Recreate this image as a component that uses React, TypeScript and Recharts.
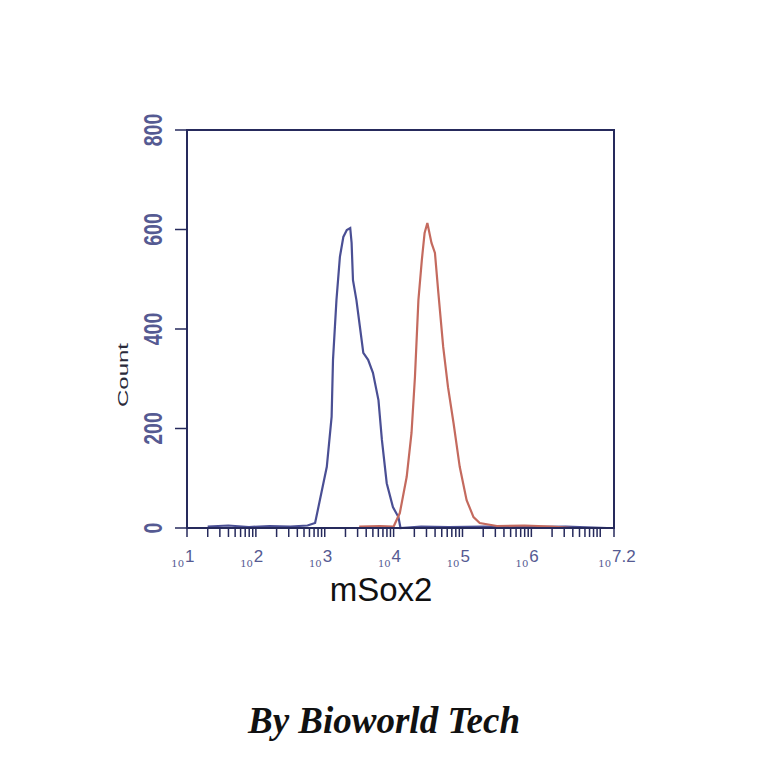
import React from "react";
import {
  LineChart,
  Line,
  XAxis,
  YAxis,
  ReferenceArea,
} from "recharts";

// x values are log10 of fluorescence intensity
const blueLog = [1.3, 1.6, 1.9, 2.2, 2.5, 2.75, 2.86, 3.03, 3.1, 3.12, 3.17, 3.22, 3.27, 3.32, 3.37, 3.39, 3.41, 3.46, 3.51, 3.56, 3.63, 3.7, 3.78, 3.83, 3.9, 3.99, 4.07, 4.1, 4.4, 4.8, 5.3, 5.9, 6.5, 7.1];
const blueCount = [3, 5, 2, 4, 3, 5, 10, 123, 224, 338, 458, 545, 585, 599, 603, 573, 498, 458, 405, 352, 338, 312, 257, 177, 90, 42, 22, 0, 3, 2, 3, 2, 3, 0];

const redLog = [3.5, 3.8, 4.0, 4.09, 4.19, 4.26, 4.31, 4.36, 4.41, 4.45, 4.49, 4.55, 4.6, 4.65, 4.72, 4.79, 4.87, 4.96, 5.06, 5.16, 5.25, 5.5, 5.9, 6.3, 6.6];
const redCount = [3, 4, 3, 30, 103, 191, 304, 458, 539, 593, 613, 573, 553, 472, 364, 283, 211, 123, 56, 22, 10, 4, 5, 3, 0];

const yTicks = [0, 200, 400, 600, 800];
const majorExps = [1, 2, 3, 4, 5, 6, 7.2];

// log-scale minor ticks: k * 10^n
const xTicks: number[] = [];
for (let n = 1; n <= 7; n++) {
  for (let k = 1; k <= 9; k++) {
    const v = n + Math.log10(k);
    if (v <= 7.2) xTicks.push(v);
  }
}
xTicks.push(7.2);

const blueData = blueLog.map((x, i) => ({ x, count: blueCount[i] }));
const redData = redLog.map((x, i) => ({ x, count: redCount[i] }));

const frame = "#262a5c";
const labelColor = "#555a92";

const XTick = ({ x, y, payload }: any) => {
  const v = payload.value;
  const isMajor = majorExps.some((m) => Math.abs(m - v) < 1e-6);
  if (!isMajor) return null;
  const exp = Math.abs(v - 7.2) < 1e-6 ? "7.2" : String(Math.round(v));
  return (
    <g>
      <text x={x - 3} y={y + 28} textAnchor="end" fontSize={10} fill={labelColor} fontFamily="DejaVu Serif">
        10
      </text>
      <text x={x - 2} y={y + 23} textAnchor="start" fontSize={17} fill={labelColor} fontFamily="Liberation Sans">
        {exp}
      </text>
    </g>
  );
};

const YTick = ({ x, y, payload }: any) => {
  const tx = x - 13;
  return (
    <text
      transform={`translate(${tx} ${y}) rotate(-90) scale(0.75 1)`}
      textAnchor="middle"
      fontSize={26}
      fontWeight="bold"
      fill={labelColor}
      fontFamily="Liberation Sans"
    >
      {payload.value}
    </text>
  );
};

export default function App() {
  return (
    <div style={{ position: "absolute", left: 0, top: 0, width: 764, height: 764, background: "#fff" }}>
      <LineChart width={764} height={764} margin={{ top: 130, right: 150, bottom: 196, left: 107 }}>
        <XAxis
          type="number"
          dataKey="x"
          domain={[1, 7.2]}
          ticks={xTicks}
          interval={0}
          tick={<XTick />}
          tickSize={9}
          tickLine={{ stroke: frame, strokeWidth: 1.5 }}
          axisLine={{ stroke: frame, strokeWidth: 2 }}
          height={40}
          allowDataOverflow
        />
        <YAxis
          type="number"
          dataKey="count"
          domain={[0, 800]}
          ticks={yTicks}
          interval={0}
          tick={<YTick />}
          tickSize={12}
          tickMargin={0}
          tickLine={{ stroke: frame, strokeWidth: 1.5 }}
          axisLine={{ stroke: frame, strokeWidth: 2 }}
          width={80}
        />
        <ReferenceArea x1={1} x2={7.2} y1={0} y2={800} fill="none" stroke={frame} strokeWidth={2} />
        <Line
          data={blueData}
          dataKey="count"
          type="linear"
          stroke="#4a4f94"
          strokeWidth={2.2}
          dot={false}
          isAnimationActive={false}
        />
        <Line
          data={redData}
          dataKey="count"
          type="linear"
          stroke="#c46a5e"
          strokeWidth={2.2}
          dot={false}
          isAnimationActive={false}
        />
      </LineChart>
      <div
        style={{
          position: "absolute",
          left: 122,
          top: 375,
          transform: "translate(-50%, -50%) rotate(-90deg) scale(1.6, 1)",
          fontFamily: "Liberation Sans",
          fontSize: 15,
          color: "#2a2a3a",
          whiteSpace: "nowrap",
        }}
      >
        Count
      </div>
      <div
        style={{
          position: "absolute",
          left: 381,
          top: 590,
          transform: "translate(-50%, -50%)",
          fontFamily: "Liberation Sans",
          fontSize: 33,
          color: "#111",
          whiteSpace: "nowrap",
        }}
      >
        mSox2
      </div>
      <div
        style={{
          position: "absolute",
          left: 384,
          top: 720,
          transform: "translate(-50%, -50%)",
          fontFamily: "Liberation Serif",
          fontSize: 37,
          fontWeight: "bold",
          fontStyle: "italic",
          color: "#111",
          whiteSpace: "nowrap",
        }}
      >
        By Bioworld Tech
      </div>
    </div>
  );
}
